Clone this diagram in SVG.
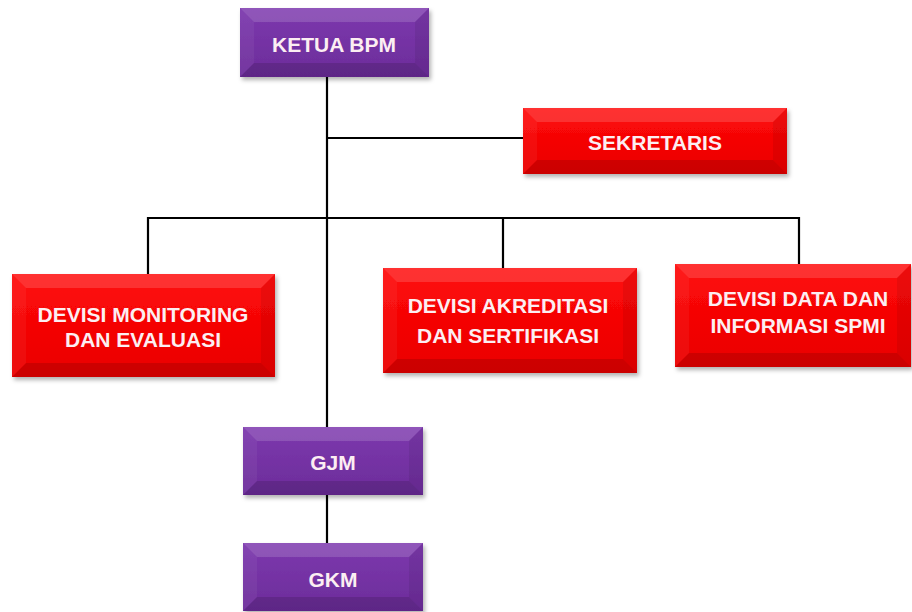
<svg xmlns="http://www.w3.org/2000/svg" width="912" height="612" viewBox="0 0 912 612">
<style>
.lbl{font-family:"Liberation Sans",Arial,sans-serif;font-weight:bold;font-size:21px;fill:#FCEEF2;text-anchor:middle}
.pu{fill:url(#gp)}
.rd{fill:url(#gr)}
.hl{fill:#fff;fill-opacity:.15}
.sh{fill:#000;fill-opacity:.13}
.sl{fill:#fff;fill-opacity:.05}
.sr{fill:#000;fill-opacity:.07}
.ln{stroke:#000;stroke-width:2.2;fill:none}
</style>
<defs>
<linearGradient id="gp" x1="0" y1="0" x2="0" y2="1">
<stop offset="0" stop-color="#7D39AE"/>
<stop offset="1" stop-color="#6C2C9A"/>
</linearGradient>
<linearGradient id="gr" x1="0" y1="0" x2="0" y2="1">
<stop offset="0" stop-color="#FF0A0A"/>
<stop offset="1" stop-color="#EA0000"/>
</linearGradient>
<filter id="ds" x="-10%" y="-10%" width="125%" height="140%">
<feDropShadow dx="2" dy="3" stdDeviation="2" flood-color="#000" flood-opacity="0.3"/>
</filter>
</defs>
<rect width="912" height="612" fill="#fff"/>
<g id="connectors">
<path class="ln" d="M327 77V427M327 138H523M148 218H799M148 217V274M503 217V268M799 217V264M327 495V543"/>
</g>
<g id="ketua">
<rect class="pu" x="240" y="8" width="189" height="69" filter="url(#ds)"/>
<polygon class="hl" points="240,8 429,8 415,22 254,22"/>
<polygon class="sh" points="240,77 429,77 415,63 254,63"/>
<polygon class="sl" points="240,8 254,22 254,63 240,77"/>
<polygon class="sr" points="429,8 415,22 415,63 429,77"/>
<text class="lbl" x="334" y="52">KETUA BPM</text>
</g>
<g id="sekretaris">
<rect class="rd" x="523" y="108" width="264" height="66" filter="url(#ds)"/>
<polygon class="hl" points="523,108 787,108 773,122 537,122"/>
<polygon class="sh" points="523,174 787,174 773,160 537,160"/>
<polygon class="sl" points="523,108 537,122 537,160 523,174"/>
<polygon class="sr" points="787,108 773,122 773,160 787,174"/>
<text class="lbl" x="655" y="150">SEKRETARIS</text>
</g>
<g id="monitoring">
<rect class="rd" x="12" y="274" width="263" height="103" filter="url(#ds)"/>
<polygon class="hl" points="12,274 275,274 261,288 26,288"/>
<polygon class="sh" points="12,377 275,377 261,363 26,363"/>
<polygon class="sl" points="12,274 26,288 26,363 12,377"/>
<polygon class="sr" points="275,274 261,288 261,363 275,377"/>
<text class="lbl" x="143" y="322">DEVISI MONITORING</text>
<text class="lbl" x="143" y="347">DAN EVALUASI</text>
</g>
<g id="akreditasi">
<rect class="rd" x="383" y="268" width="254" height="105" filter="url(#ds)"/>
<polygon class="hl" points="383,268 637,268 623,282 397,282"/>
<polygon class="sh" points="383,373 637,373 623,359 397,359"/>
<polygon class="sl" points="383,268 397,282 397,359 383,373"/>
<polygon class="sr" points="637,268 623,282 623,359 637,373"/>
<text class="lbl" x="508" y="313">DEVISI AKREDITASI</text>
<text class="lbl" x="508" y="343">DAN SERTIFIKASI</text>
</g>
<g id="data">
<rect class="rd" x="675" y="264" width="236" height="103" filter="url(#ds)"/>
<polygon class="hl" points="675,264 911,264 897,278 689,278"/>
<polygon class="sh" points="675,367 911,367 897,353 689,353"/>
<polygon class="sl" points="675,264 689,278 689,353 675,367"/>
<polygon class="sr" points="911,264 897,278 897,353 911,367"/>
<text class="lbl" x="798" y="306">DEVISI DATA DAN</text>
<text class="lbl" x="798" y="333">INFORMASI SPMI</text>
</g>
<g id="gjm">
<rect class="pu" x="243" y="427" width="180" height="68" filter="url(#ds)"/>
<polygon class="hl" points="243,427 423,427 409,441 257,441"/>
<polygon class="sh" points="243,495 423,495 409,481 257,481"/>
<polygon class="sl" points="243,427 257,441 257,481 243,495"/>
<polygon class="sr" points="423,427 409,441 409,481 423,495"/>
<text class="lbl" x="333" y="470">GJM</text>
</g>
<g id="gkm">
<rect class="pu" x="243" y="543" width="180" height="68" filter="url(#ds)"/>
<polygon class="hl" points="243,543 423,543 409,557 257,557"/>
<polygon class="sh" points="243,611 423,611 409,597 257,597"/>
<polygon class="sl" points="243,543 257,557 257,597 243,611"/>
<polygon class="sr" points="423,543 409,557 409,597 423,611"/>
<text class="lbl" x="333" y="587">GKM</text>
</g>
</svg>
